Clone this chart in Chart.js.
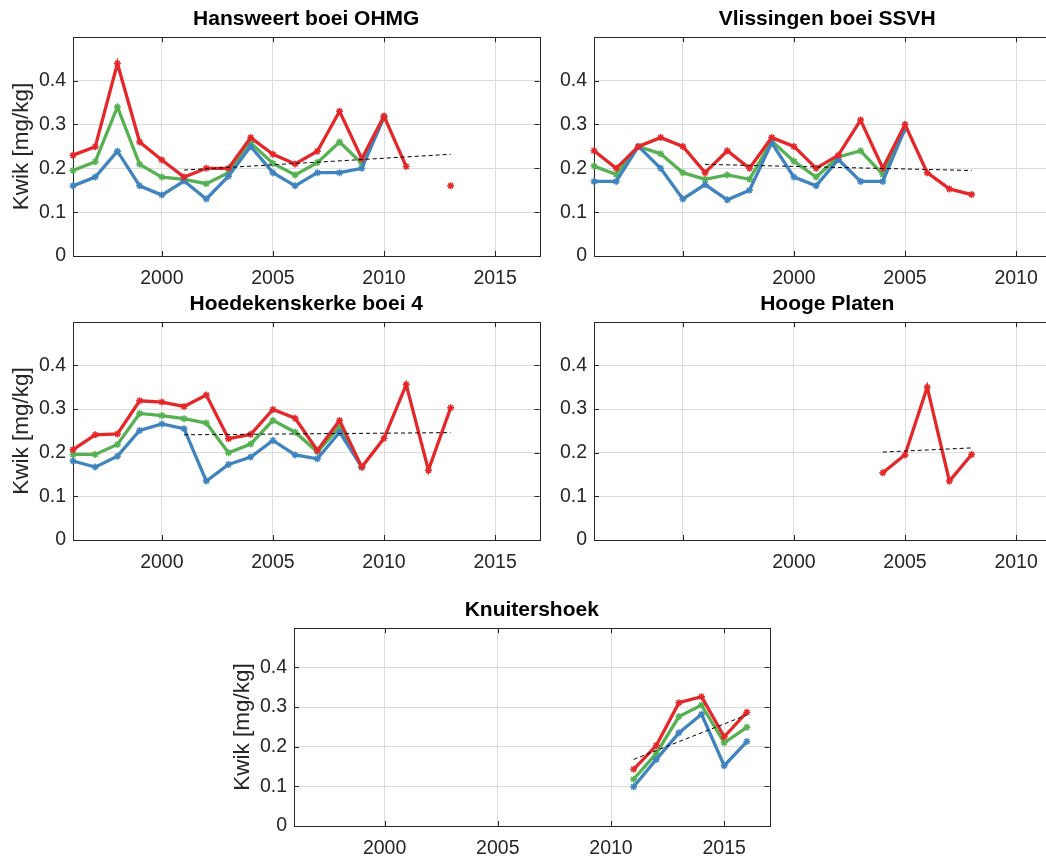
<!DOCTYPE html>
<html>
<head>
<meta charset="utf-8">
<script src="https://cdn.jsdelivr.net/npm/chart.js@4"></script>
<style>
  html, body { margin: 0; padding: 0; background: #fff; overflow: hidden; }
  #wrap { position: relative; width: 1046px; height: 858px; overflow: hidden; }
  canvas { position: absolute; }
</style>
</head>
<body>
<div id="wrap">
  <canvas id="c1" width="545" height="296" style="left:0px;top:0px"></canvas>
  <canvas id="c2" width="526" height="296" style="left:540px;top:0px"></canvas>
  <canvas id="c3" width="545" height="295" style="left:0px;top:285px"></canvas>
  <canvas id="c4" width="526" height="295" style="left:540px;top:285px"></canvas>
  <canvas id="c5" width="554" height="275" style="left:221px;top:591px"></canvas>
</div>
<script>
// tick labels
var yTicks = [0, 0.1, 0.2, 0.3, 0.4];
var xTicksA = [2000, 2005, 2010, 2015];
var xTicksB = [1995, 2000, 2005, 2010];
var xLabelsB = ['', '2000', '2005', '2010'];

// Hansweert boei OHMG
var hwYearsMax = [1996, 1997, 1998, 1999, 2000, 2001, 2002, 2003, 2004, 2005, 2006, 2007, 2008, 2009, 2010, 2011, 2012, 2013];
var hwMax = [0.23, 0.249, 0.439, 0.26, 0.219, 0.18, 0.20, 0.20, 0.27, 0.232, 0.21, 0.239, 0.33, 0.222, 0.319, 0.204, null, 0.16];
var hwYears = [1996, 1997, 1998, 1999, 2000, 2001, 2002, 2003, 2004, 2005, 2006, 2007, 2008, 2009, 2010];
var hwMean = [0.195, 0.215, 0.34, 0.209, 0.18, 0.175, 0.165, 0.19, 0.258, 0.211, 0.185, 0.213, 0.26, 0.211, 0.316];
var hwMin = [0.16, 0.18, 0.239, 0.16, 0.139, 0.171, 0.13, 0.182, 0.25, 0.19, 0.16, 0.19, 0.19, 0.20, 0.316];
var hwTrendX = [2001, 2013];
var hwTrendY = [0.196, 0.232];

// Vlissingen boei SSVH
var vlYearsMax = [1991, 1992, 1993, 1994, 1995, 1996, 1997, 1998, 1999, 2000, 2001, 2002, 2003, 2004, 2005, 2006, 2007, 2008];
var vlMax = [0.24, 0.20, 0.25, 0.27, 0.25, 0.19, 0.24, 0.20, 0.27, 0.25, 0.20, 0.23, 0.31, 0.20, 0.30, 0.19, 0.153, 0.14];
var vlYears = [1991, 1992, 1993, 1994, 1995, 1996, 1997, 1998, 1999, 2000, 2001, 2002, 2003, 2004, 2005];
var vlMean = [0.205, 0.186, 0.25, 0.233, 0.19, 0.175, 0.185, 0.175, 0.262, 0.216, 0.18, 0.226, 0.24, 0.186, 0.29];
var vlMin = [0.17, 0.17, 0.25, 0.20, 0.13, 0.163, 0.128, 0.15, 0.258, 0.18, 0.16, 0.22, 0.17, 0.17, 0.29];
var vlTrendX = [1996, 2008];
var vlTrendY = [0.209, 0.195];

// Hoedekenskerke boei 4
var hkYearsMax = [1996, 1997, 1998, 1999, 2000, 2001, 2002, 2003, 2004, 2005, 2006, 2007, 2008, 2009, 2010, 2011, 2012, 2013];
var hkMax = [0.207, 0.241, 0.243, 0.319, 0.316, 0.306, 0.332, 0.232, 0.242, 0.299, 0.279, 0.205, 0.274, 0.167, 0.233, 0.356, 0.16, 0.303];
var hkYears = [1996, 1997, 1998, 1999, 2000, 2001, 2002, 2003, 2004, 2005, 2006, 2007, 2008, 2009];
var hkMean = [0.196, 0.196, 0.219, 0.29, 0.285, 0.278, 0.268, 0.2, 0.22, 0.274, 0.247, 0.202, 0.259, 0.167];
var hkMin = [0.181, 0.167, 0.192, 0.251, 0.266, 0.255, 0.135, 0.173, 0.19, 0.228, 0.195, 0.186, 0.247, 0.167];
var hkTrendX = [2001, 2013];
var hkTrendY = [0.241, 0.246];

// Hooge Platen
var hpYears = [2004, 2005, 2006, 2007, 2008];
var hpMax = [0.154, 0.195, 0.35, 0.135, 0.196];
var hpTrendX = [2004, 2008];
var hpTrendY = [0.2015, 0.211];

// Knuitershoek
var knYears = [2011, 2012, 2013, 2014, 2015, 2016];
var knMax = [0.143, 0.203, 0.311, 0.326, 0.225, 0.287];
var knMean = [0.118, 0.183, 0.276, 0.305, 0.21, 0.249];
var knMin = [0.099, 0.168, 0.235, 0.282, 0.152, 0.213];
var knTrendX = [2011, 2016];
var knTrendY = [0.168, 0.28];

var RED = '#e4282a', GREEN = '#55b152', BLUE = '#3f83bf';
var AXIS = '#262626';
var FONT = '"Liberation Sans", Arial, Helvetica, sans-serif';

function pts(xs, ys) {
    return xs.map(function(x, i) { return { x: x, y: ys[i] }; });
}

function series(xs, ys, color) {
    return {
        data: pts(xs, ys),
        borderColor: color,
        backgroundColor: color,
        borderWidth: 3.3,
        pointStyle: 'star',
        pointRadius: 3.5,
        pointBorderWidth: 1.5,
        pointBorderColor: color,
        pointBackgroundColor: color,
        spanGaps: false,
        clip: false
    };
}

function trend(xs, ys) {
    return {
        data: pts(xs, ys),
        borderColor: '#000',
        borderWidth: 1,
        borderDash: [4, 3],
        pointRadius: 0,
        clip: false
    };
}

// box around the axes and inward tick marks, like the original
var frame = {
    id: 'frame',
    beforeDatasetsDraw: function(chart) {
        var ctx = chart.ctx, a = chart.chartArea;
        var x = chart.scales.x, y = chart.scales.y;
        ctx.save();
        ctx.strokeStyle = AXIS;
        ctx.lineWidth = 1;
        ctx.beginPath();
        x.ticks.forEach(function(t) {
            var px = Math.round(x.getPixelForValue(t.value)) + 0.5;
            ctx.moveTo(px, a.bottom); ctx.lineTo(px, a.bottom - 5);
            ctx.moveTo(px, a.top); ctx.lineTo(px, a.top + 5);
        });
        y.ticks.forEach(function(t) {
            var py = Math.round(y.getPixelForValue(t.value)) + 0.5;
            ctx.moveTo(a.left, py); ctx.lineTo(a.left + 5, py);
            ctx.moveTo(a.right, py); ctx.lineTo(a.right - 5, py);
        });
        ctx.stroke();
        ctx.strokeRect(Math.round(a.left) + 0.5, Math.round(a.top) + 0.5,
            Math.round(a.right - a.left), Math.round(a.bottom - a.top));
        ctx.restore();
    }
};

function makePanel(id, title, datasets, opt) {
    return new Chart(document.getElementById(id), {
        type: 'line',
        data: { datasets: datasets },
        plugins: [frame],
        options: {
            responsive: false,
            animation: false,
            devicePixelRatio: 1,
            layout: { padding: { right: 5, left: 0, top: 0, bottom: 0 } },
            plugins: {
                legend: { display: false },
                tooltip: { enabled: false },
                title: {
                    display: true,
                    text: title,
                    fullSize: false,
                    color: '#000',
                    font: { family: FONT, size: 21, weight: 'bold' },
                    padding: { top: 7, bottom: 5 }
                }
            },
            scales: {
                x: {
                    type: 'linear',
                    min: opt.xmin,
                    max: opt.xmax,
                    afterBuildTicks: function(s) {
                        s.ticks = opt.xticks.map(function(v) { return { value: v }; });
                    },
                    afterFit: function(s) { s.height = 40; },
                    grid: { color: '#dcdcdc', drawTicks: false },
                    border: { display: false },
                    ticks: {
                        color: AXIS,
                        padding: 11,
                        maxRotation: 0,
                        autoSkip: false,
                        font: { family: FONT, size: 19.5 },
                        callback: function(v) {
                            var i = opt.xticks.indexOf(v);
                            return opt.xlabels ? opt.xlabels[i] : String(v);
                        }
                    }
                },
                y: {
                    min: 0,
                    max: 0.499,
                    afterBuildTicks: function(s) {
                        s.ticks = yTicks.map(function(v) { return { value: v }; });
                    },
                    afterFit: function(s) { s.width = opt.ywidth; },
                    grid: { color: '#dcdcdc', drawTicks: false },
                    border: { display: false },
                    title: {
                        display: opt.ylabel,
                        text: 'Kwik [mg/kg]',
                        color: AXIS,
                        font: { family: FONT, size: 22.5 },
                        padding: { top: 8, bottom: 0 }
                    },
                    ticks: {
                        color: AXIS,
                        padding: 7,
                        font: { family: FONT, size: 19.5 },
                        callback: function(v) { return v === 0 ? '0' : v.toFixed(1); }
                    }
                }
            }
        }
    });
}

var optA = { xmin: 1996, xmax: 2017, xticks: xTicksA, ywidth: 73, ylabel: true };
var optB = { xmin: 1991, xmax: 2012, xticks: xTicksB, xlabels: xLabelsB, ywidth: 54, ylabel: false };

makePanel('c1', 'Hansweert boei OHMG', [
    trend(hwTrendX, hwTrendY),
    series(hwYearsMax, hwMax, RED),
    series(hwYears, hwMin, BLUE),
    series(hwYears, hwMean, GREEN)
], optA);

makePanel('c2', 'Vlissingen boei SSVH', [
    trend(vlTrendX, vlTrendY),
    series(vlYearsMax, vlMax, RED),
    series(vlYears, vlMin, BLUE),
    series(vlYears, vlMean, GREEN)
], optB);

makePanel('c3', 'Hoedekenskerke boei 4', [
    trend(hkTrendX, hkTrendY),
    series(hkYearsMax, hkMax, RED),
    series(hkYears, hkMin, BLUE),
    series(hkYears, hkMean, GREEN)
], optA);

makePanel('c4', 'Hooge Platen', [
    trend(hpTrendX, hpTrendY),
    series(hpYears, hpMax, RED)
], optB);

makePanel('c5', 'Knuitershoek', [
    trend(knTrendX, knTrendY),
    series(knYears, knMax, RED),
    series(knYears, knMin, BLUE),
    series(knYears, knMean, GREEN)
], optA);
</script>
</body>
</html>
